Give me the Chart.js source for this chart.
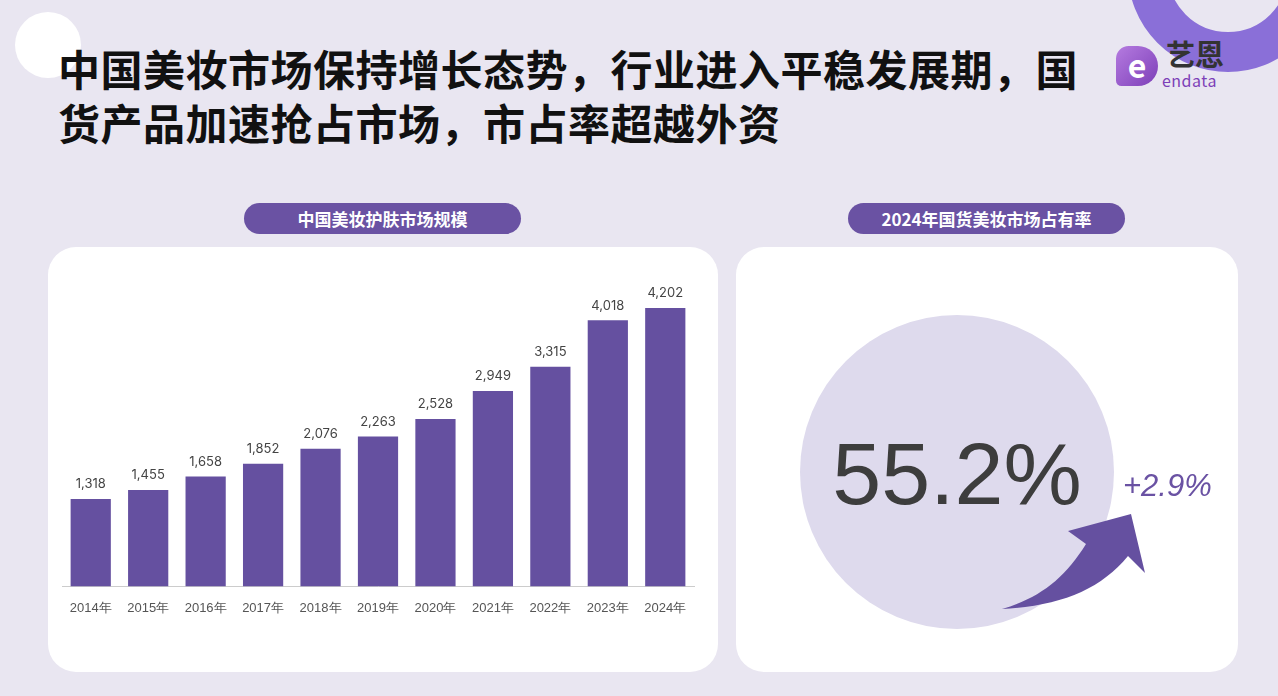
<!DOCTYPE html>
<html><head><meta charset="utf-8">
<script src="https://cdn.jsdelivr.net/npm/chart.js@4"></script>
<style>
  body { margin:0; width:1278px; height:696px; background:#e9e6f1; font-family:"Noto Sans CJK SC","Noto Sans",sans-serif; position:relative; overflow:hidden; }
  .abs { position:absolute; }
  .title { left:58px; top:41px; font-size:42px; font-weight:700; color:#111; line-height:54px; letter-spacing:0.5px; }
  .pill { background:#6a52a3; color:#fff; font-size:17px; font-weight:700; border-radius:16px; height:31px; line-height:31px; text-align:center; }
  .card { background:#fff; border-radius:28px; }
</style></head>
<body>
<div class="abs" style="left:15px;top:12px;width:66px;height:66px;border-radius:50%;background:#fff"></div>
<div class="abs" style="left:1128px;top:-128px;width:120px;height:120px;border-radius:50%;border:40px solid #8a6fd8"></div>
<div class="abs title">中国美妆市场保持增长态势，行业进入平稳发展期，国<br>货产品加速抢占市场，市占率超越外资</div>
<div class="abs" style="left:1116px;top:46px;width:42px;height:40px;border-radius:14px 22px 22px 6px;background:linear-gradient(135deg,#b57be0,#7d3fb8);color:#fff;font-size:32px;font-weight:700;text-align:center;line-height:36px">e</div>
<div class="abs" style="left:1166px;top:36px;font-size:29px;font-weight:700;color:#333;line-height:34px">艺恩</div>
<div class="abs" style="left:1162px;top:68px;font-size:16px;color:#7d3fb8;letter-spacing:0.5px">endata</div>

<div class="abs pill" style="left:244px;top:203px;width:277px">中国美妆护肤市场规模</div>
<div class="abs pill" style="left:848px;top:203px;width:277px">2024年国货美妆市场占有率</div>
<div class="abs card" style="left:48px;top:247px;width:670px;height:425px"></div>
<div class="abs card" style="left:736px;top:247px;width:502px;height:425px"></div>
<div class="abs" style="left:56px;top:275px;width:650px;height:347px"><canvas id="bar"></canvas></div>

<div class="abs" style="left:800px;top:315px;width:314px;height:314px;border-radius:50%;background:#dedaed"></div>
<svg class="abs" style="left:0;top:0" width="1278" height="696">
  <path d="M1002,609 C1060,606 1100,590 1128,556 L1145,573 L1131,514 L1068,531 L1086,544 C1065,578 1040,598 1002,609 Z" fill="#6550a0"/>
</svg>
<div class="abs" style="left:800px;top:414px;width:314px;text-align:center;font-family:'Liberation Sans',Arial,sans-serif;font-size:88px;color:#3d3d3d;line-height:120px">55.2%</div>
<div class="abs" style="left:1123px;top:468px;font-family:'Liberation Sans',Arial,sans-serif;font-style:italic;font-size:31px;color:#6a52a3">+2.9%</div>

<script>
const years = ['2014年','2015年','2016年','2017年','2018年','2019年','2020年','2021年','2022年','2023年','2024年'];
const marketSize = [1318,1455,1658,1852,2076,2263,2528,2949,3315,4018,4202];

const valueLabels = {
  id: 'valueLabels',
  afterDatasetsDraw(chart) {
    const ctx = chart.ctx;
    ctx.save();
    ctx.font = '13px Inter, "Noto Sans", sans-serif';
    ctx.fillStyle = '#444';
    ctx.textAlign = 'center';
    ctx.textBaseline = 'bottom';
    chart.getDatasetMeta(0).data.forEach((bar, i) => {
      ctx.fillText(marketSize[i].toLocaleString('en-US'), bar.x, bar.y - 8);
    });
    ctx.restore();
  }
};

new Chart(document.getElementById('bar'), {
  type: 'bar',
  data: { labels: years, datasets: [{ data: marketSize, backgroundColor: '#6550a0', barPercentage: 0.7, categoryPercentage: 1 }] },
  options: {
    responsive: true, maintainAspectRatio: false, animation: false,
    layout: { padding: { left: 6, right: 12, top: 0, bottom: 0 } },
    plugins: { legend: { display: false }, tooltip: { enabled: false } },
    scales: {
      x: { grid: { display: false }, border: { color: '#ccc' },
           ticks: { color: '#555', font: { size: 13 }, padding: 6, maxRotation: 0 } },
      y: { display: false, min: 0, max: 4700 }
    }
  },
  plugins: [valueLabels]
});
</script>
</body></html>
